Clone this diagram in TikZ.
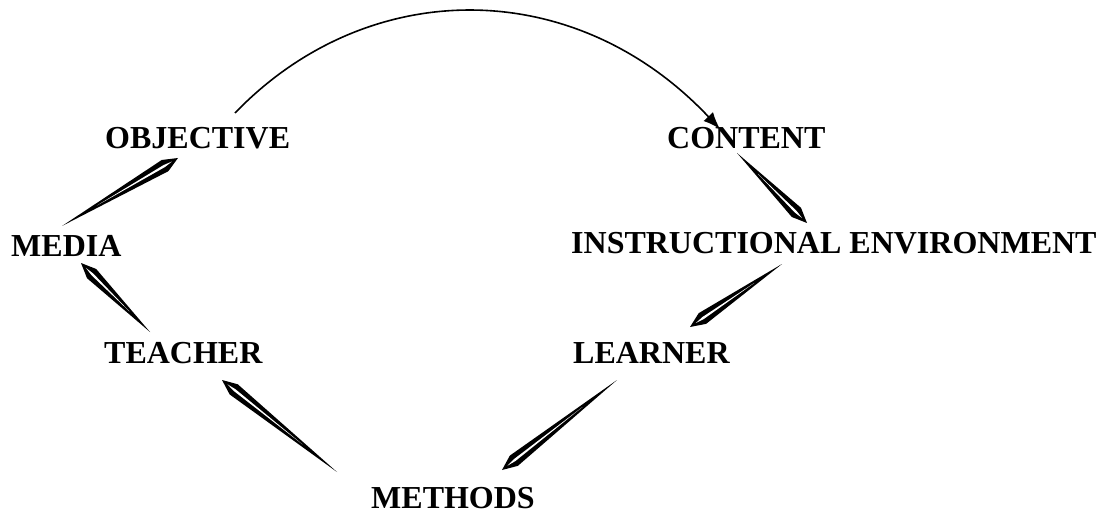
\documentclass[tikz,border=0pt]{standalone}
\usepackage{fontspec}
\setmainfont{Liberation Serif}
\usetikzlibrary{calc,arrows.meta}
\newcommand\quillarrow[2]{%
  \fill[black] (#1) -- ($(#2)!15pt!(#1)!6.5pt!90:(#1)$) -- (#2) -- ($(#2)!15pt!(#1)!6.5pt!-90:(#1)$) -- cycle;
  \fill[white] ($(#1)!0.3!(#2)$) -- ($(#2)!16pt!(#1)!1.2pt!90:(#1)$) -- ($(#2)!7pt!(#1)$) -- ($(#2)!16pt!(#1)!1.2pt!-90:(#1)$) -- cycle;
}
\begin{document}
\begin{tikzpicture}[x=1pt,y=-1pt,
  lbl/.style={anchor=base west,inner sep=0pt,font=\fontsize{32}{36}\selectfont\bfseries}]
\useasboundingbox (0,0) rectangle (1103,513);
\node[lbl] (obj) at (105,149) {OBJECTIVE};
\node[lbl] (con) at (667,149) {CONTENT};
\node[lbl] (med) at (11,256) {MEDIA};
\node[lbl] (env) at (571,254) {INSTRUCTIONAL ENVIRONMENT};
\node[lbl] (tea) at (104,363) {TEACHER};
\node[lbl] (lea) at (573,363) {LEARNER};
\node[lbl] (met) at (371,508) {METHODS};
% connector end points
\coordinate (q1t) at (62,226);  \coordinate (q1h) at (178,158);
\coordinate (q2t) at (737,153); \coordinate (q2h) at (807,223);
\coordinate (q3t) at (782,264); \coordinate (q3h) at (690,327);
\coordinate (q4t) at (617,380); \coordinate (q4h) at (502,470);
\coordinate (q5t) at (337,472); \coordinate (q5h) at (222,380);
\coordinate (q6t) at (150,332); \coordinate (q6h) at (81,263);
\coordinate (arcs) at (235,113); \coordinate (arce) at (720,129);
\quillarrow{q1t}{q1h}
\quillarrow{q2t}{q2h}
\quillarrow{q3t}{q3h}
\quillarrow{q4t}{q4h}
\quillarrow{q5t}{q5h}
\quillarrow{q6t}{q6h}
\draw[line width=1.6pt,-{Latex[length=17pt,width=13pt]}] (arcs) .. controls (368,-25) and (575,-25) .. (arce);
\end{tikzpicture}
\end{document}
